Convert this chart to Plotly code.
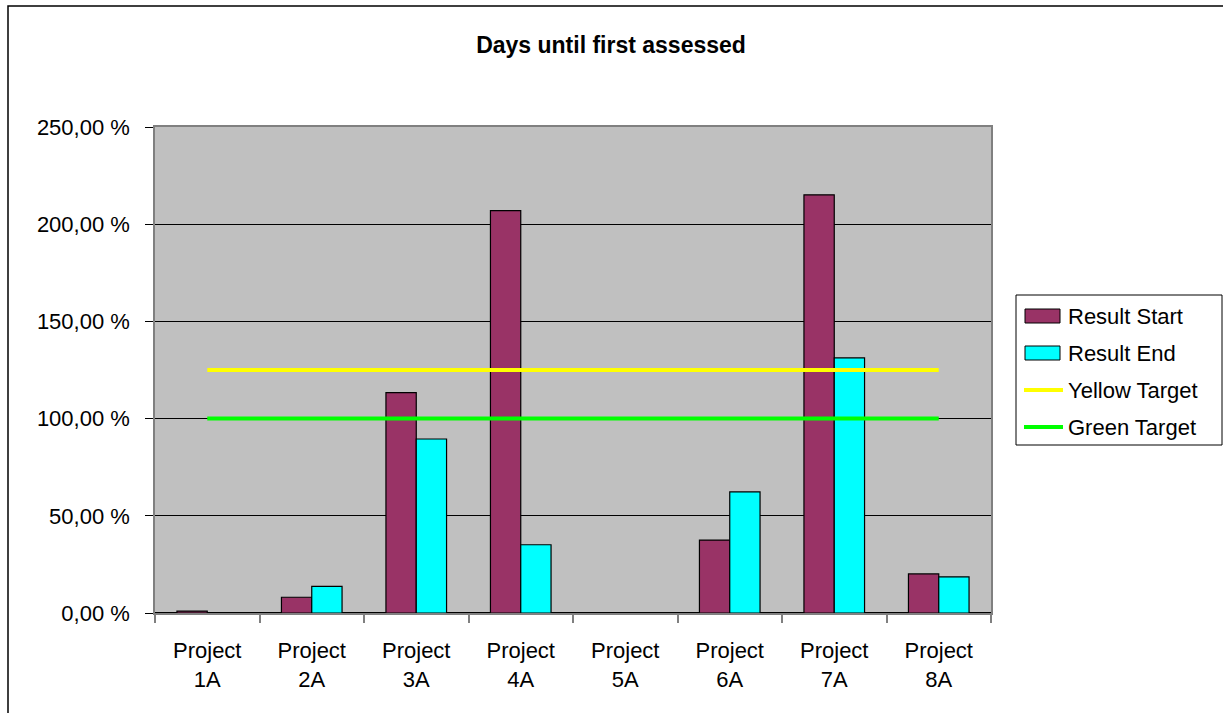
import plotly.graph_objects as go

# Chart data
projects = ["Project<br>1A", "Project<br>2A", "Project<br>3A", "Project<br>4A",
            "Project<br>5A", "Project<br>6A", "Project<br>7A", "Project<br>8A"]
result_start = [1.0, 8.1, 113.4, 207.0, 0.0, 37.5, 215.1, 20.1]
result_end = [0.0, 13.7, 89.5, 35.1, 0.0, 62.3, 131.2, 18.6]
yellow_target = [125, 125, 125, 125, 125, 125, 125, 125]
green_target = [100, 100, 100, 100, 100, 100, 100, 100]

y_tick_vals = [0, 50, 100, 150, 200, 250]
y_tick_text = ["0,00 %", "50,00 %", "100,00 %", "150,00 %", "200,00 %", "250,00 %"]

FONT = "Liberation Sans, Arial, sans-serif"
C_START = "#993366"
C_END = "#00FFFF"
C_YELLOW = "#FFFF00"
C_GREEN = "#00FF00"
TXT = 22

W, H = 1223, 713
ML, MR, MT, MB = 155, 232, 127, 100
PW, PH = W - ML - MR, H - MT - MB


def px_x(p):
    return (p - ML) / PW


def px_y(p):
    return (H - MB - p) / PH


fig = go.Figure()
fig.add_trace(go.Bar(x=projects, y=result_start, name="Result Start",
                     marker=dict(color=C_START, line=dict(color="black", width=1.2))))
fig.add_trace(go.Bar(x=projects, y=result_end, name="Result End",
                     marker=dict(color=C_END, line=dict(color="black", width=1.2))))
fig.add_trace(go.Scatter(x=projects, y=yellow_target, name="Yellow Target", mode="lines",
                         line=dict(color=C_YELLOW, width=4)))
fig.add_trace(go.Scatter(x=projects, y=green_target, name="Green Target", mode="lines",
                         line=dict(color=C_GREEN, width=4)))

shapes = []
annotations = []

# outer chart frame
shapes.append(dict(type="rect", xref="paper", yref="paper",
                   x0=px_x(8), x1=px_x(1240), y0=px_y(730), y1=px_y(6),
                   line=dict(color="black", width=1.5), fillcolor="rgba(0,0,0,0)", layer="above"))

# legend box
shapes.append(dict(type="rect", xref="paper", yref="paper",
                   x0=px_x(1016), x1=px_x(1222), y0=px_y(445), y1=px_y(295),
                   line=dict(color="black", width=1), fillcolor="white", layer="above"))

legend_items = [
    ("Result Start", "box", C_START, 316),
    ("Result End", "box", C_END, 353),
    ("Yellow Target", "line", C_YELLOW, 390),
    ("Green Target", "line", C_GREEN, 427),
]
for label, kind, color, cy in legend_items:
    if kind == "box":
        shapes.append(dict(type="rect", xref="paper", yref="paper",
                           x0=px_x(1025), x1=px_x(1060), y0=px_y(cy + 7), y1=px_y(cy - 7),
                           line=dict(color="black", width=1), fillcolor=color, layer="above"))
    else:
        shapes.append(dict(type="line", xref="paper", yref="paper",
                           x0=px_x(1024), x1=px_x(1063), y0=px_y(cy), y1=px_y(cy),
                           line=dict(color=color, width=4), layer="above"))
    annotations.append(dict(text=label, xref="paper", yref="paper",
                            x=px_x(1066), y=px_y(cy), xanchor="left", yanchor="middle",
                            showarrow=False, font=dict(family=FONT, size=TXT, color="black")))

fig.update_layout(
    width=W, height=H,
    margin=dict(l=ML, r=MR, t=MT, b=MB),
    paper_bgcolor="white",
    plot_bgcolor="#C0C0C0",
    barmode="group",
    bargap=0.42,
    bargroupgap=0,
    showlegend=False,
    font=dict(family=FONT, size=TXT, color="black"),
    title=dict(text="<b>Days until first assessed</b>", xref="container", yref="container",
               x=611 / W, y=1 - 45 / H, xanchor="center", yanchor="middle",
               font=dict(family=FONT, size=23, color="black")),
    shapes=shapes,
    annotations=annotations,
)

fig.update_xaxes(
    type="category",
    showgrid=False,
    showline=True, linecolor="#808080", linewidth=1.5, mirror=True,
    ticks="outside", ticklen=8, tickcolor="#808080", tickwidth=1.5,
    tickson="boundaries",
    ticklabelstandoff=17,
    tickfont=dict(family=FONT, size=TXT, color="black"),
)
fig.update_yaxes(
    range=[0, 250],
    tickvals=y_tick_vals, ticktext=y_tick_text,
    showgrid=True, gridcolor="black", gridwidth=1,
    zeroline=True, zerolinecolor="black", zerolinewidth=1.5,
    showline=True, linecolor="#808080", linewidth=1.5, mirror=True,
    ticks="outside", ticklen=8, tickcolor="black", tickwidth=1.2,
    ticklabelstandoff=11,
    tickfont=dict(family=FONT, size=TXT, color="black"),
)

fig.write_html("out.html")
